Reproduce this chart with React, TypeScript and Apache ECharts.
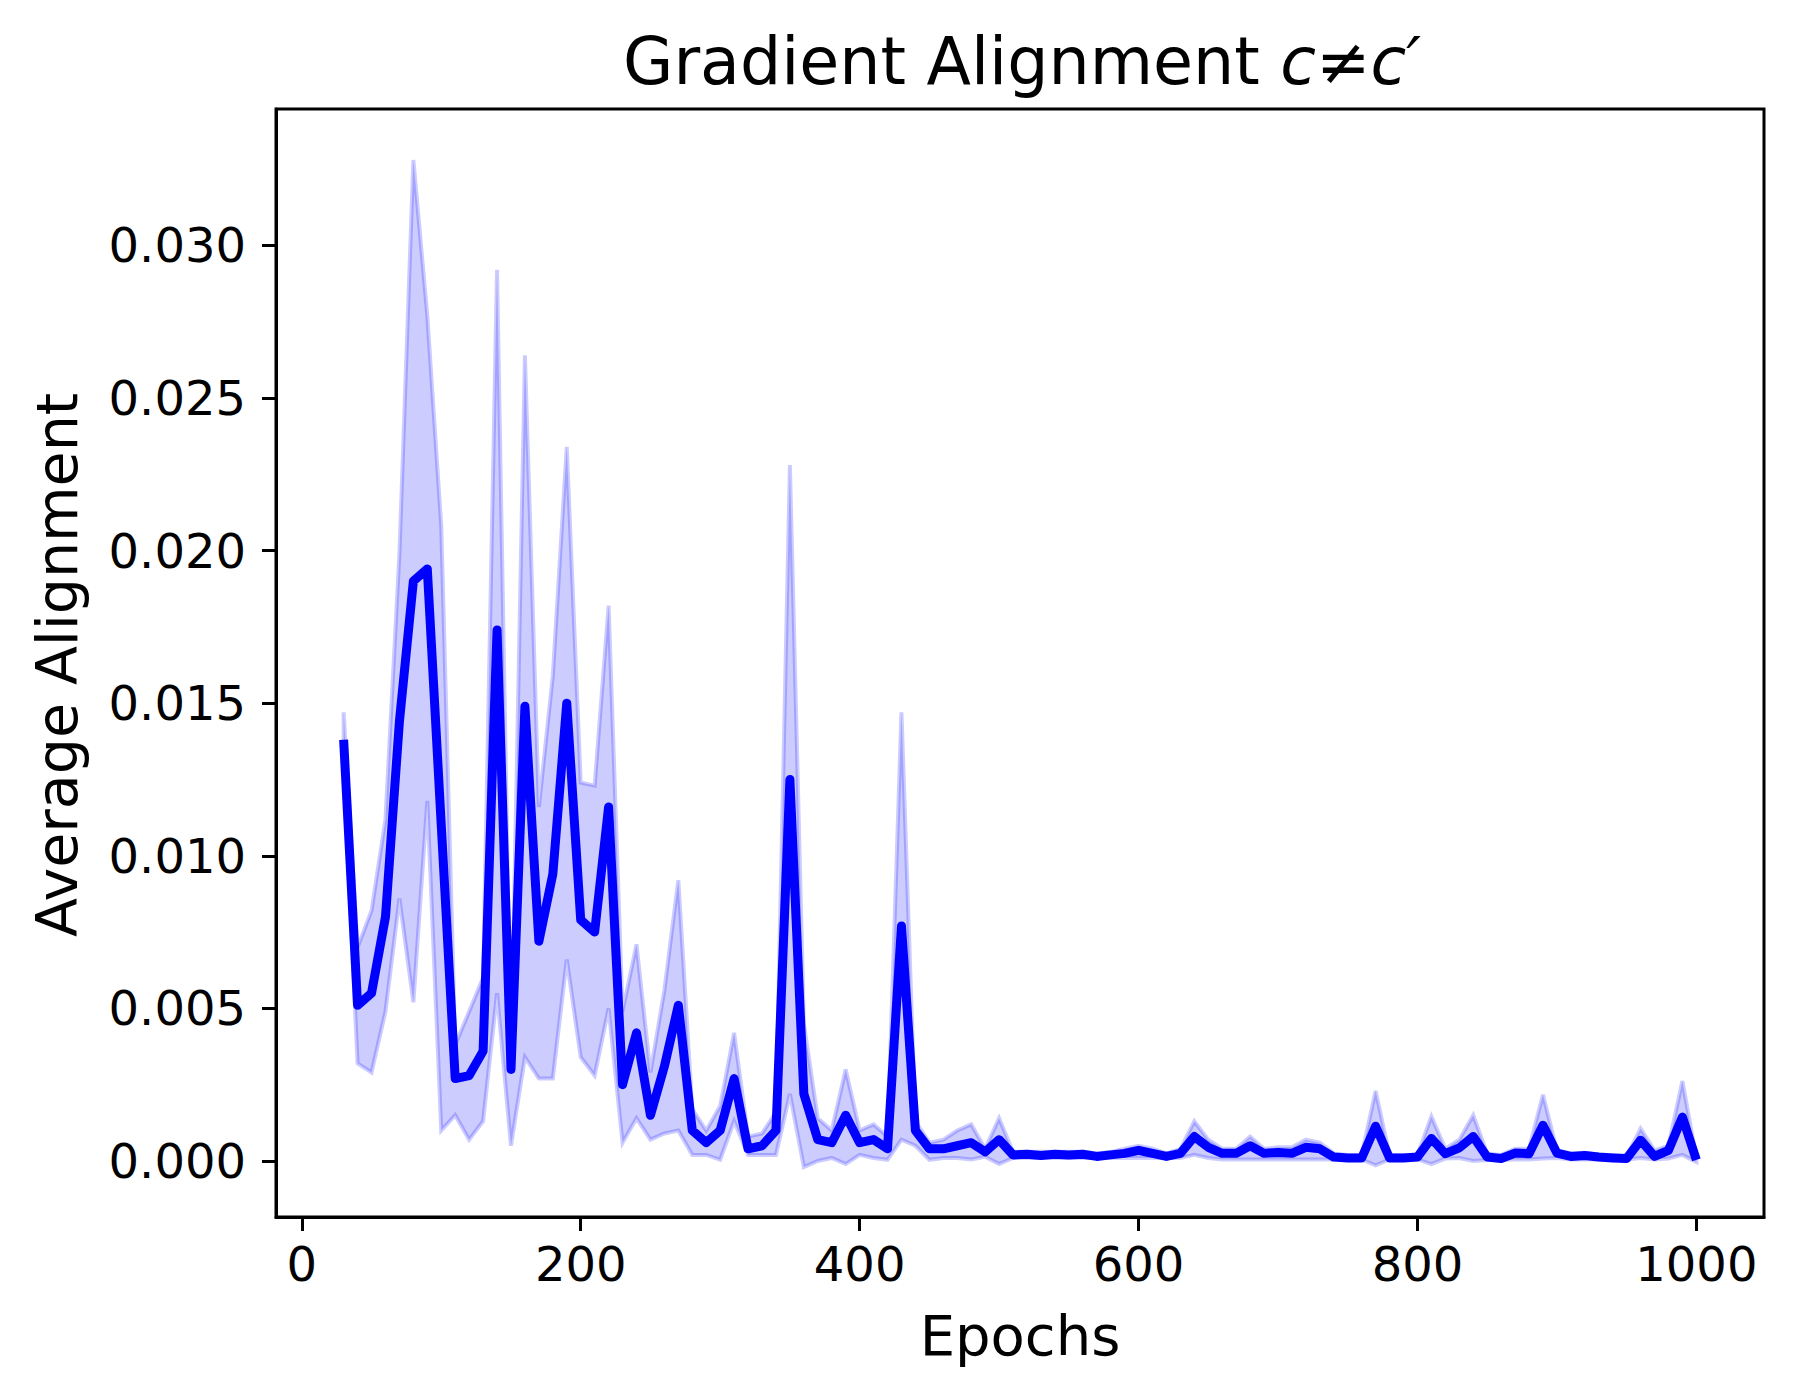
import React, { useEffect, useRef } from "react";
import * as echarts from "echarts";

const epochs = [
  30, 40, 50, 60, 70, 80, 90, 100, 110, 120,
  130, 140, 150, 160, 170, 180, 190, 200, 210, 220,
  230, 240, 250, 260, 270, 280, 290, 300, 310, 320,
  330, 340, 350, 360, 370, 380, 390, 400, 410, 420,
  430, 440, 450, 460, 470, 480, 490, 500, 510, 520,
  530, 540, 550, 560, 570, 580, 590, 600, 610, 620,
  630, 640, 650, 660, 670, 680, 690, 700, 710, 720,
  730, 740, 750, 760, 770, 780, 790, 800, 810, 820,
  830, 840, 850, 860, 870, 880, 890, 900, 910, 920,
  930, 940, 950, 960, 970, 980, 990, 1000,
];

const meanAlignment = [
  0.0138, 0.0051, 0.0055, 0.008, 0.0144, 0.019, 0.0194, 0.011, 0.0027, 0.0028,
  0.0036, 0.0174, 0.003, 0.0149, 0.0072, 0.0094, 0.015, 0.0079, 0.0075, 0.0116,
  0.0025, 0.0042, 0.0015, 0.0031, 0.0051, 0.001, 0.0006, 0.001, 0.0027, 0.0004,
  0.0005, 0.001, 0.0125, 0.0022, 0.0007, 0.0006, 0.0015, 0.0006, 0.0007, 0.0004,
  0.0077, 0.001, 0.0004, 0.0004, 0.0005, 0.0006, 0.0003, 0.0007, 0.0002, 0.00022,
  0.00018, 0.00022, 0.0002, 0.00022, 0.00015, 0.0002, 0.00025, 0.00035, 0.00025, 0.00015,
  0.00025, 0.0008, 0.00045, 0.00025, 0.00025, 0.0005, 0.00025, 0.00028, 0.00025, 0.00045,
  0.0004, 0.00013, 0.0001, 0.0001, 0.00114, 0.0001, 0.0001, 0.00013, 0.00074, 0.00024,
  0.00043, 0.0008, 0.00013, 0.00008, 0.00026, 0.00024, 0.00117, 0.00026, 0.00015, 0.00018,
  0.00013, 0.0001, 0.00008, 0.00068, 0.00015, 0.00035, 0.00144, 0.00004,
];

const upperBand = [
  0.0147, 0.007, 0.0082, 0.0112, 0.0199, 0.0328, 0.0277, 0.0208, 0.0038, 0.0049,
  0.006, 0.0292, 0.0033, 0.0264, 0.0116, 0.0159, 0.0234, 0.0124, 0.0123, 0.0182,
  0.0049, 0.0071, 0.0029, 0.0056, 0.0092, 0.0017, 0.001, 0.0018, 0.0042, 0.0008,
  0.0009, 0.0016, 0.0228, 0.0045, 0.0014, 0.001, 0.003, 0.001, 0.0012, 0.0008,
  0.0147, 0.0013, 0.0006, 0.0007, 0.001, 0.0012, 0.0004, 0.0014, 0.0003, 0.0003,
  0.0003, 0.0003, 0.0003, 0.0003, 0.00025, 0.0003, 0.0004, 0.0005, 0.0004, 0.00025,
  0.0004, 0.0013, 0.0007, 0.0004, 0.0004, 0.0008, 0.0004, 0.00045, 0.00045, 0.0007,
  0.0006, 0.00025, 0.0002, 0.0002, 0.0023, 0.0002, 0.0002, 0.0002, 0.00146, 0.0004,
  0.0007, 0.0015, 0.00025, 0.0002, 0.0004, 0.0004, 0.00217, 0.00035, 0.00025, 0.00027,
  0.0002, 0.0002, 0.00015, 0.00106, 0.00035, 0.0005, 0.00262, 0.0001,
];

const lowerBand = [
  0.013, 0.0032, 0.0029, 0.0049, 0.0086, 0.0052, 0.0118, 0.001, 0.0015, 0.0007,
  0.0013, 0.0055, 0.0005, 0.0034, 0.0027, 0.0027, 0.0066, 0.0034, 0.0028, 0.005,
  0.0006, 0.0014, 0.0007, 0.0009, 0.001, 0.0002, 0.0002, 0.00004, 0.0013, 0.0002,
  0.0002, 0.0002, 0.0022, -0.0002, 0.0, 0.0001, -0.0001, 0.0002, 0.0001, 0.00004,
  0.0007, 0.0005, 0.00004, 0.0001, 0.0001, 0.00005, 0.00014, -0.0001, 0.0001, 0.0001,
  0.0001, 0.0001, 0.0001, 0.0001, 0.0001, 0.0001, 0.0001, 0.0001, 0.0001, 0.0001,
  0.0001, 0.0002, 0.0001, 0.00005, 0.00005, 0.00005, 0.00005, 0.00005, 0.00005, 0.00005,
  0.00005, 0.00005, 0.00005, 0.00005, -0.00014, 0.00005, 0.00005, 0.00005, -0.0001, 0.00008,
  0.0001, 0.0, 0.00003, 0.00003, 0.00005, 0.00005, 0.00008, 0.0001, 0.00005, 0.00005,
  0.00005, 0.00005, 0.00005, 0.0001, 0.00005, 0.00008, 0.0002, -0.00003,
];

const xTicks = [0, 200, 400, 600, 800, 1000];
const yTicks = [0, 0.005, 0.01, 0.015, 0.02, 0.025, 0.03];

const FONT = "DejaVu Sans";
const BAND = "rgba(0,0,255,0.2)";

export default function App() {
  const ref = useRef<HTMLDivElement>(null);

  useEffect(() => {
    if (!ref.current) return;
    const chart = echarts.init(ref.current, undefined, { renderer: "svg" });

    const meanData = epochs.map((e, i) => [e, meanAlignment[i]]);

    const axisLineStyle = { color: "#000", width: 3 };

    chart.setOption({
      animation: false,
      grid: {
        left: 276,
        top: 109,
        width: 1488,
        height: 1108,
        show: true,
        borderColor: "#000",
        borderWidth: 3,
        backgroundColor: "transparent",
      },
      xAxis: {
        type: "value",
        min: -18.5,
        max: 1048.5,
        axisLine: { show: true, onZero: false, lineStyle: axisLineStyle },
        axisTick: {
          show: true,
          length: 14,
          inside: false,
          lineStyle: axisLineStyle,
          customValues: xTicks,
        },
        axisLabel: {
          show: true,
          customValues: xTicks,
          fontSize: 48,
          fontFamily: FONT,
          color: "#000",
          margin: 23,
          formatter: (v: number) => String(Math.round(v)),
        },
        splitLine: { show: false },
      },
      yAxis: {
        type: "value",
        min: -0.001835,
        max: 0.03447,
        axisLine: { show: true, onZero: false, lineStyle: axisLineStyle },
        axisTick: {
          show: true,
          length: 14,
          inside: false,
          lineStyle: axisLineStyle,
          customValues: yTicks,
        },
        axisLabel: {
          show: true,
          customValues: yTicks,
          fontSize: 48,
          fontFamily: FONT,
          color: "#000",
          margin: 30,
          formatter: (v: number) => v.toFixed(3),
        },
        splitLine: { show: false },
      },
      series: [
        {
          type: "custom",
          name: "band",
          silent: true,
          data: [[epochs[0], upperBand[0]]],
          z: 1,
          renderItem: (_params: any, api: any) => {
            const pts: number[][] = [];
            for (let i = 0; i < epochs.length; i++) {
              pts.push(api.coord([epochs[i], upperBand[i]]));
            }
            for (let i = epochs.length - 1; i >= 0; i--) {
              pts.push(api.coord([epochs[i], lowerBand[i]]));
            }
            return {
              type: "polygon",
              shape: { points: pts },
              style: { fill: BAND, stroke: BAND, lineWidth: 4, lineJoin: "miter" },
            };
          },
        },
        {
          type: "line",
          name: "mean",
          data: meanData,
          symbol: "none",
          silent: true,
          lineStyle: { color: "#0000ff", width: 9, join: "round" },
          z: 3,
        },
      ],
      graphic: [
        {
          type: "text",
          x: 1022,
          y: 61,
          style: {
            text: "Gradient Alignment {i|c}≠{i|c′}",
            fontSize: 65,
            fontFamily: FONT,
            fill: "#000",
            textAlign: "center",
            textVerticalAlign: "middle",
            rich: {
              i: { fontStyle: "italic", fontSize: 65, fontFamily: FONT, fill: "#000" },
            },
          },
        },
        {
          type: "text",
          x: 1020,
          y: 1335,
          style: {
            text: "Epochs",
            fontSize: 56,
            fontFamily: FONT,
            fill: "#000",
            textAlign: "center",
            textVerticalAlign: "middle",
          },
        },
        {
          type: "text",
          x: 57,
          y: 665,
          rotation: Math.PI / 2,
          style: {
            text: "Average Alignment",
            fontSize: 57,
            fontFamily: FONT,
            fill: "#000",
            textAlign: "center",
            textVerticalAlign: "middle",
          },
        },
      ],
    });

    return () => chart.dispose();
  }, []);

  return (
    <div
      ref={ref}
      style={{ position: "absolute", left: 0, top: 0, width: 1793, height: 1399, background: "#fff" }}
    />
  );
}
